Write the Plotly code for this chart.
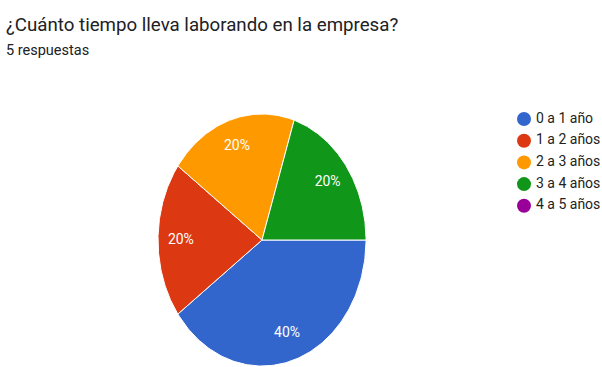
import numpy as np
import plotly.graph_objects as go

# ---- data ----
categories = ["0 a 1 año", "1 a 2 años", "2 a 3 años", "3 a 4 años", "4 a 5 años"]
counts = [2, 1, 1, 1, 0]
colors = ["#3366cc", "#dc3912", "#ff9900", "#109618", "#990099"]
title_text = "¿Cuánto tiempo lleva laborando en la empresa?"
subtitle_text = "5 respuestas"

W, H = 602, 367
FONT = "Roboto, Arial, sans-serif"

total = sum(counts)
start_deg = 90.0  # first slice starts at 3 o'clock, clockwise
label_r = 0.78

fig = go.Figure()

cum = 0
lab_x, lab_y, lab_t = [], [], []
for cat, v, c in zip(categories, counts, colors):
    if v == 0:
        continue
    a0 = start_deg + 360.0 * cum / total
    a1 = start_deg + 360.0 * (cum + v) / total
    t = np.radians(np.linspace(a0, a1, 120))
    xs = np.concatenate([[0.0], np.sin(t), [0.0]])
    ys = np.concatenate([[0.0], np.cos(t), [0.0]])
    fig.add_trace(go.Scatter(
        x=xs, y=ys, mode="lines", fill="toself", fillcolor=c,
        line=dict(color="white", width=1), showlegend=False,
        hoverinfo="skip", name=cat))
    m = np.radians((a0 + a1) / 2)
    lab_x.append(label_r * np.sin(m))
    lab_y.append(label_r * np.cos(m))
    lab_t.append(f"{round(100 * v / total)}%")
    cum += v

fig.add_trace(go.Scatter(
    x=lab_x, y=lab_y, text=lab_t, mode="text",
    textfont=dict(family=FONT, size=14, color="white"),
    showlegend=False, hoverinfo="skip", cliponaxis=False))

# legend (circle markers + labels), laid out on an overlay axis in pixel units
leg_x0, leg_y0, leg_dy, leg_gap = 524, 119, 21.7, 12
leg_y = [leg_y0 + i * leg_dy for i in range(len(categories))]
fig.add_trace(go.Scatter(
    x=[leg_x0] * len(categories), y=leg_y, mode="markers",
    marker=dict(symbol="circle", size=14, color=colors),
    xaxis="x2", yaxis="y2", showlegend=False, hoverinfo="skip", cliponaxis=False))
fig.add_trace(go.Scatter(
    x=[leg_x0 + leg_gap] * len(categories), y=leg_y, mode="text",
    text=categories, textposition="middle right",
    textfont=dict(family=FONT, size=14, color="#222222"),
    xaxis="x2", yaxis="y2", showlegend=False, hoverinfo="skip", cliponaxis=False))

cx_px, cy_px, rx_px, ry_px = 262, 240, 104, 126
fig.update_layout(
    width=W, height=H,
    margin=dict(l=0, r=0, t=0, b=0),
    paper_bgcolor="white", plot_bgcolor="rgba(0,0,0,0)",
    showlegend=False,
    xaxis=dict(range=[-1, 1], domain=[(cx_px - rx_px) / W, (cx_px + rx_px) / W],
               visible=False, fixedrange=True),
    yaxis=dict(range=[-1, 1], domain=[(H - cy_px - ry_px) / H, (H - cy_px + ry_px) / H],
               visible=False, fixedrange=True),
    xaxis2=dict(range=[0, W], domain=[0, 1], visible=False, fixedrange=True),
    yaxis2=dict(range=[H, 0], domain=[0, 1], visible=False, fixedrange=True),
    annotations=[
        dict(text=title_text, x=4 / W, y=1 - 25 / H, xref="paper", yref="paper",
             xanchor="left", yanchor="middle", showarrow=False,
             font=dict(family=FONT, size=18.7, color="#202124")),
        dict(text=subtitle_text, x=4 / W, y=1 - 51 / H, xref="paper", yref="paper",
             xanchor="left", yanchor="middle", showarrow=False,
             font=dict(family=FONT, size=14.5, color="#202124")),
    ],
)

fig.write_html("out.html")
